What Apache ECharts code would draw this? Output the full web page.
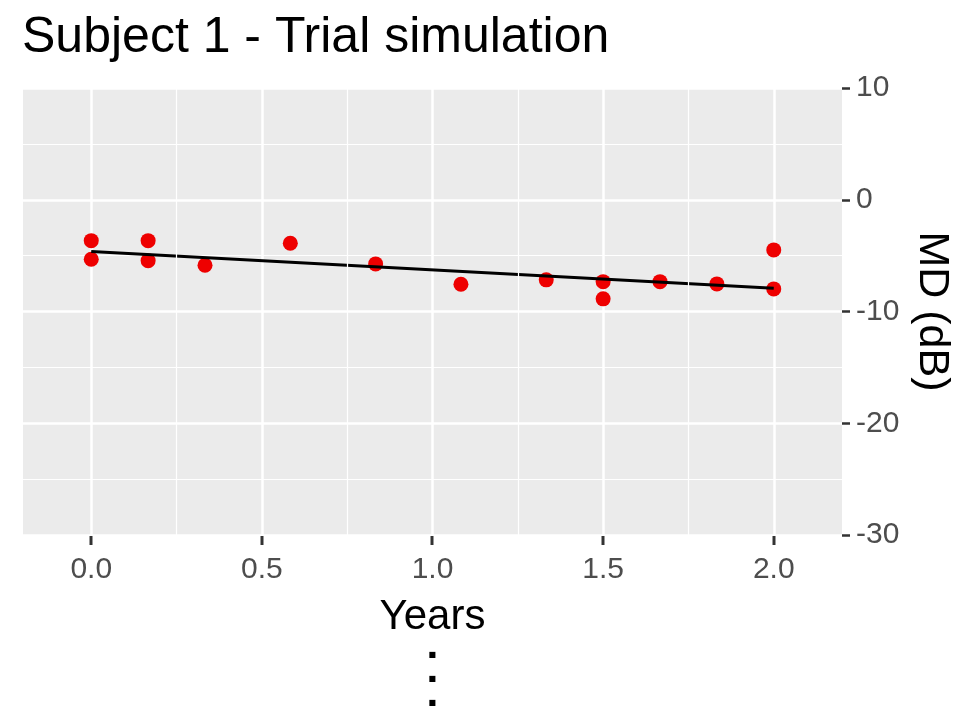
<!DOCTYPE html>
<html lang="en">
  <head>
    <meta charset="UTF-8" />
    <title>Subject 1 - Trial simulation</title>
    <script src="https://cdn.jsdelivr.net/npm/echarts@6/dist/echarts.min.js"></script>
    <style>
      html, body { margin: 0; padding: 0; background: #fff; }
      #chart { width: 956px; height: 709px; }
    </style>
  </head>
  <body>
    <div id="chart"></div>
    <script>
      // observed MD values (years, dB)
      const years = [0, 0, 1/6, 1/6, 1/3, 7/12, 10/12, 13/12, 16/12, 1.5, 1.5, 20/12, 22/12, 2, 2];
      const md = [-3.66, -5.32, -3.66, -5.45, -5.86, -3.89, -5.74, -7.56, -7.17, -7.33, -8.87, -7.33, -7.53, -4.49, -7.98];
      // fitted trend line end points
      const fitYears = [0, 2];
      const fitMd = [-4.64, -7.92];
      const xTicks = [0, 0.5, 1, 1.5, 2];
      const xMinor = [0.25, 0.75, 1.25, 1.75];

      const font = "Liberation Sans, Arial, sans-serif";
      let chart = echarts.init(document.getElementById("chart"), null, { renderer: "canvas" });

      chart.setOption({
        animation: false,
        title: {
          text: "Subject 1 - Trial simulation",
          left: 22,
          top: 13,
          padding: 0,
          textStyle: { fontFamily: font, fontSize: 50, fontWeight: "normal", color: "#000" },
        },
        grid: {
          left: 23, right: 114, top: 88, bottom: 174,
          outerBoundsMode: "none", containLabel: false,
          show: true, backgroundColor: "#EBEBEB", borderWidth: 0,
        },
        xAxis: {
          type: "value", position: "bottom", min: -0.2, max: 2.2,
          name: "Years", nameLocation: "middle", nameGap: 61,
          nameTextStyle: { fontFamily: font, fontSize: 42, color: "#000" },
          axisLine: { show: false, onZero: false },
          axisTick: { show: false, customValues: xTicks },
          axisLabel: {
            customValues: xTicks, margin: 20,
            fontFamily: font, fontSize: 30, color: "#4d4d4d",
            formatter: (v) => v.toFixed(1),
          },
          splitLine: { show: true, lineStyle: { color: "#fff", width: 2.5 } },
        },
        yAxis: {
          type: "value", position: "right", min: -30, max: 10, interval: 10,
          name: "MD (dB)", nameLocation: "middle", nameRotate: -90, nameGap: 68,
          nameTextStyle: { fontFamily: font, fontSize: 43, color: "#000" },
          axisLine: { show: false, onZero: false },
          axisTick: { show: true, length: 8, lineStyle: { color: "#333", width: 2.5 } },
          axisLabel: { margin: 14, fontFamily: font, fontSize: 30, color: "#4d4d4d" },
          splitLine: { show: true, lineStyle: { color: "#fff", width: 2.5 } },
          minorTick: { show: false, splitNumber: 2 },
          minorSplitLine: { show: true, lineStyle: { color: "#fff", width: 1.2 } },
        },
        series: [
          {
            // minor vertical grid lines
            type: "line",
            data: [],
            z: 1,
            silent: true,
            markLine: {
              silent: true, symbol: "none", label: { show: false },
              lineStyle: { color: "#fff", width: 1.2, type: "solid" },
              data: xMinor.map((v) => ({ xAxis: v })),
            },
          },
          {
            type: "scatter",
            data: years.map((x, i) => [x, md[i]]),
            symbolSize: 15,
            itemStyle: { color: "#ee0000", opacity: 1 },
            z: 3,
          },
          {
            type: "line",
            data: fitYears.map((x, i) => [x, fitMd[i]]),
            showSymbol: false,
            lineStyle: { color: "#000", width: 3 },
            z: 4,
          },
        ],
      });

      // x ticks placed through the grid's scales, plus the vertical
      // ellipsis under the x-axis title
      const tickEls = xTicks.map((v) => {
        const p = chart.convertToPixel({ gridIndex: 0 }, [v, -30]);
        const px = Math.round(p[0]);
        const py = Math.round(p[1]);
        return {
          type: "rect", silent: true, z: 100,
          shape: { x: px - 1.5, y: py + 1, width: 3, height: 9 },
          style: { fill: "#333" },
        };
      });
      const cx = chart.convertToPixel({ gridIndex: 0 }, [1, -30])[0];
      chart.setOption({
        graphic: tickEls.concat([
          {
            type: "text", left: cx - 4, top: 643, z: 100,
            style: {
              text: "■\n■\n■", fontSize: 8, lineHeight: 24,
              fontFamily: "DejaVu Sans", fill: "#000",
            },
          },
        ]),
      });
    </script>
  </body>
</html>
